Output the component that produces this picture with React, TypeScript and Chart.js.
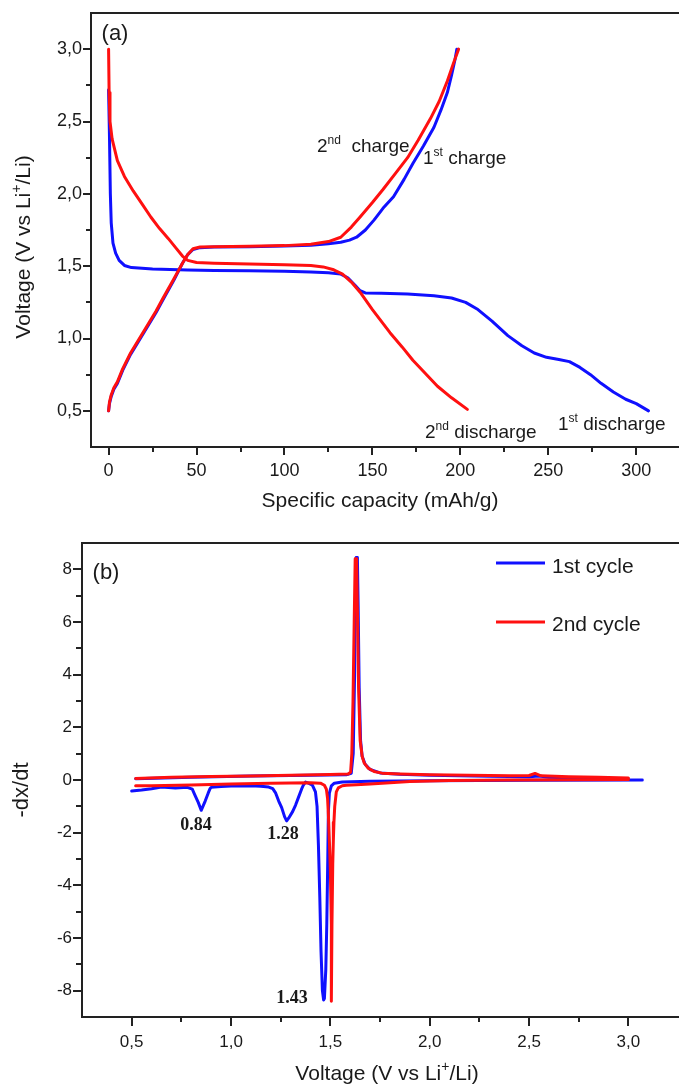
import React, { useEffect, useRef } from 'react';
import { Chart, registerables } from 'chart.js';

Chart.register(...registerables);

// ---------------- Panel (a): voltage vs specific capacity ----------------
const dis1Cap = [0, 0.5, 1, 1.5, 2.5, 4, 6, 9, 13, 25, 45, 60, 80, 100, 115, 125, 132, 136, 140, 143, 146, 155, 170, 185, 195, 203, 210, 218, 227, 235, 242, 249, 256, 262, 268, 274, 280, 287, 294, 300, 307];
const dis1V = [2.72, 2.4, 2.0, 1.8, 1.66, 1.59, 1.54, 1.505, 1.49, 1.48, 1.473, 1.47, 1.468, 1.465, 1.46, 1.455, 1.445, 1.42, 1.37, 1.33, 1.315, 1.312, 1.308, 1.295, 1.28, 1.25, 1.2, 1.12, 1.02, 0.95, 0.9, 0.87, 0.855, 0.84, 0.8, 0.75, 0.69, 0.63, 0.58, 0.55, 0.5];

const chg1Cap = [0, 0.5, 1.5, 3, 5, 8, 12.5, 17, 22, 27, 31, 37, 42, 45, 48, 52, 60, 80, 100, 115, 125, 132, 137, 141, 146, 151, 156, 162, 168, 173, 179, 185, 189, 192.6, 195, 197, 198];
const chg1V = [0.5, 0.55, 0.6, 0.65, 0.69, 0.78, 0.89, 0.98, 1.08, 1.18, 1.27, 1.4, 1.52, 1.58, 1.615, 1.628, 1.632, 1.635, 1.64, 1.645, 1.655, 1.665, 1.68, 1.7, 1.75, 1.82, 1.9, 1.98, 2.1, 2.21, 2.33, 2.46, 2.58, 2.7, 2.82, 2.93, 3.0];

const dis2Cap = [0, 0.3, 0.8, 2, 5, 9, 14, 19, 24, 29, 34, 38, 42, 45, 50, 60, 80, 100, 115, 122, 128, 133, 138, 143, 150, 160, 167, 173, 180, 187, 195, 204];
const dis2V = [3.0, 2.7, 2.5, 2.38, 2.23, 2.12, 2.02, 1.93, 1.84, 1.76, 1.69, 1.63, 1.57, 1.54, 1.525, 1.52, 1.515, 1.51, 1.505, 1.495, 1.475, 1.445, 1.39, 1.32, 1.2, 1.04, 0.94, 0.85, 0.76, 0.67, 0.59, 0.51];

const chg2Cap = [0, 0.5, 1.5, 3, 5, 8, 12.5, 17, 22, 27, 31, 37, 42, 45, 48, 52, 60, 80, 100, 115, 125, 132, 138, 143, 150, 156, 163, 170, 176, 183, 188, 192.6, 196, 199];
const chg2V = [0.5, 0.56, 0.61, 0.66, 0.7, 0.79, 0.9, 0.99, 1.09, 1.19, 1.28, 1.41, 1.52, 1.58, 1.62, 1.632, 1.635, 1.637, 1.642, 1.652, 1.67, 1.7, 1.77, 1.84, 1.94, 2.03, 2.14, 2.25, 2.37, 2.52, 2.64, 2.78, 2.9, 3.0];

const xMajorA = [0, 50, 100, 150, 200, 250, 300];
const xMinorA = [25, 75, 125, 175, 225, 275, 325];
const yMajorA = [0.5, 1.0, 1.5, 2.0, 2.5, 3.0];
const yMinorA = [0.75, 1.25, 1.75, 2.25, 2.75];

// ---------------- Panel (b): -dx/dt vs voltage ----------------
const b1DisV = [3.07, 2.5, 2.0, 1.7, 1.56, 1.52, 1.505, 1.495, 1.49, 1.487, 1.482, 1.477, 1.47, 1.466, 1.46, 1.453, 1.447, 1.44, 1.433, 1.425, 1.41, 1.39, 1.375, 1.365, 1.355, 1.34, 1.325, 1.31, 1.29, 1.28, 1.27, 1.255, 1.24, 1.225, 1.21, 1.19, 1.15, 1.1, 1.0, 0.95, 0.9, 0.895, 0.885, 0.87, 0.85, 0.835, 0.82, 0.805, 0.78, 0.72, 0.65, 0.6, 0.55, 0.5];
const b1DisY = [0.0, -0.01, -0.03, -0.05, -0.08, -0.12, -0.22, -0.5, -1.2, -3.0, -5.5, -7.2, -8.3, -8.35, -8.0, -6.5, -4.5, -2.5, -1.0, -0.45, -0.2, -0.12, -0.08, -0.18, -0.35, -0.65, -0.95, -1.2, -1.45, -1.55, -1.4, -1.05, -0.8, -0.5, -0.33, -0.27, -0.24, -0.22, -0.23, -0.25, -0.28, -0.32, -0.5, -0.8, -1.15, -0.85, -0.6, -0.35, -0.28, -0.3, -0.27, -0.33, -0.38, -0.42];

const b1ChgV = [0.52, 0.8, 1.1, 1.4, 1.58, 1.605, 1.615, 1.622, 1.627, 1.63, 1.636, 1.64, 1.645, 1.652, 1.66, 1.675, 1.7, 1.75, 1.85, 2.0, 2.3, 2.5, 2.55, 2.6, 2.8, 3.0];
const b1ChgY = [0.05, 0.1, 0.15, 0.18, 0.2, 0.25, 1.0, 4.0, 7.5, 8.45, 8.45, 6.5, 3.5, 1.5, 0.9, 0.6, 0.4, 0.27, 0.22, 0.18, 0.14, 0.12, 0.15, 0.1, 0.06, 0.03];

const b2DisV = [3.0, 2.7, 2.4, 2.1, 1.9, 1.8, 1.7, 1.63, 1.58, 1.56, 1.54, 1.53, 1.522, 1.518, 1.515, 1.512, 1.508, 1.506, 1.504, 1.5, 1.495, 1.49, 1.486, 1.48, 1.47, 1.45, 1.4, 1.2, 1.0, 0.8, 0.6, 0.52];
const b2DisY = [0.02, 0.01, 0.0, -0.02, -0.06, -0.1, -0.15, -0.18, -0.2, -0.22, -0.3, -0.45, -1.0, -1.6, -2.3, -3.2, -5.5, -8.4, -5.5, -3.4, -2.3, -1.3, -0.7, -0.35, -0.2, -0.12, -0.1, -0.12, -0.15, -0.19, -0.22, -0.22];

const b2ChgV = [0.52, 0.7, 0.9, 1.1, 1.3, 1.5, 1.59, 1.602, 1.608, 1.614, 1.62, 1.625, 1.632, 1.636, 1.642, 1.65, 1.66, 1.67, 1.69, 1.72, 1.76, 1.85, 2.0, 2.2, 2.4, 2.5, 2.53, 2.56, 2.7, 2.85, 3.0];
const b2ChgY = [0.06, 0.1, 0.13, 0.15, 0.18, 0.21, 0.23, 0.3, 1.0, 3.0, 6.0, 8.4, 8.4, 6.5, 3.5, 1.5, 0.9, 0.65, 0.45, 0.32, 0.26, 0.23, 0.2, 0.18, 0.16, 0.17, 0.25, 0.16, 0.12, 0.1, 0.08];

const xMajorB = [0.5, 1.0, 1.5, 2.0, 2.5, 3.0];
const xMinorB = [0.75, 1.25, 1.75, 2.25, 2.75];
const yMajorB = [-8, -6, -4, -2, 0, 2, 4, 6, 8];
const yMinorB = [-7, -5, -3, -1, 1, 3, 5, 7];

const BLUE = '#1010ff';
const RED = '#ff1010';
const INK = '#1a1a1a';
const SANS = '"Liberation Sans", Arial, sans-serif';
const SERIF = '"Liberation Serif", "Times New Roman", serif';

type Part = { t: string; sup?: boolean };

function pts(xs: number[], ys: number[]) {
  return xs.map((x, i) => ({ x, y: ys[i] }));
}

function drawRich(ctx: CanvasRenderingContext2D, parts: Part[], x: number, baseline: number, size: number, align: 'left' | 'center', weight = 'normal', family = SANS) {
  const supSize = Math.round(size * 0.65);
  const widths = parts.map((p) => {
    ctx.font = `${weight} ${p.sup ? supSize : size}px ${family}`;
    return ctx.measureText(p.t).width;
  });
  const total = widths.reduce((a, b) => a + b, 0);
  let cx = align === 'center' ? x - total / 2 : x;
  ctx.textAlign = 'left';
  ctx.textBaseline = 'alphabetic';
  ctx.fillStyle = INK;
  parts.forEach((p, i) => {
    ctx.font = `${weight} ${p.sup ? supSize : size}px ${family}`;
    ctx.fillText(p.t, cx, p.sup ? baseline - size * 0.42 : baseline);
    cx += widths[i];
  });
}

type FrameCfg = {
  xMajor: number[]; xMinor: number[]; yMajor: number[]; yMinor: number[];
  xMajLen: number; xMinLen: number; yMajLen: number; yMinLen: number;
};

function drawFrame(chart: any, cfg: FrameCfg) {
  const { ctx, chartArea } = chart;
  const { left, right, top, bottom } = chartArea;
  const xs = chart.scales.x;
  const ys = chart.scales.y;
  ctx.save();
  ctx.strokeStyle = '#222';
  ctx.lineWidth = 2;
  ctx.beginPath();
  const xTick = (v: number, len: number) => {
    const px = Math.round(xs.getPixelForValue(v));
    if (px < left - 1 || px > right + 1) return;
    ctx.moveTo(px, bottom);
    ctx.lineTo(px, bottom + len);
  };
  const yTick = (v: number, len: number) => {
    const py = Math.round(ys.getPixelForValue(v));
    ctx.moveTo(left, py);
    ctx.lineTo(left - len, py);
  };
  cfg.xMajor.forEach((v) => xTick(v, cfg.xMajLen));
  cfg.xMinor.forEach((v) => xTick(v, cfg.xMinLen));
  cfg.yMajor.forEach((v) => yTick(v, cfg.yMajLen));
  cfg.yMinor.forEach((v) => yTick(v, cfg.yMinLen));
  ctx.moveTo(left - 1, top);
  ctx.lineTo(right, top);
  ctx.lineTo(right, bottom);
  ctx.stroke();
  ctx.restore();
}

function lineDs(data: { x: number; y: number }[], color: string, width = 3) {
  return {
    data,
    showLine: true,
    borderColor: color,
    backgroundColor: color,
    borderWidth: width,
    pointRadius: 0,
    pointHoverRadius: 0,
    tension: 0,
    borderJoinStyle: 'round' as const,
    borderCapStyle: 'round' as const,
    fill: false,
  };
}

function commaFmt(v: number) {
  return v.toFixed(1).replace('.', ',');
}

function PanelA() {
  const ref = useRef<HTMLCanvasElement>(null);
  useEffect(() => {
    if (!ref.current) return;
    const plugin = {
      id: 'panelA',
      afterDraw(chart: any) {
        const ctx = chart.ctx as CanvasRenderingContext2D;
        drawFrame(chart, {
          xMajor: xMajorA, xMinor: xMinorA, yMajor: yMajorA, yMinor: yMinorA,
          xMajLen: 8, xMinLen: 5, yMajLen: 8, yMinLen: 5,
        });
        ctx.save();
        // panel label
        ctx.fillStyle = INK;
        ctx.font = `22px ${SANS}`;
        ctx.textAlign = 'center';
        ctx.textBaseline = 'middle';
        ctx.fillText('(a)', 115, 34);
        // axis titles
        drawRich(ctx, [{ t: 'Specific capacity (mAh/g)' }], 380, 507, 21, 'center');
        ctx.save();
        ctx.translate(30, 247);
        ctx.rotate(-Math.PI / 2);
        drawRich(ctx, [{ t: 'Voltage (V vs Li' }, { t: '+', sup: true }, { t: '/Li)' }], 0, 0, 21, 'center');
        ctx.restore();
        // curve annotations
        drawRich(ctx, [{ t: '2' }, { t: 'nd', sup: true }, { t: '  charge' }], 317, 152, 19, 'left');
        drawRich(ctx, [{ t: '1' }, { t: 'st', sup: true }, { t: ' charge' }], 423, 164, 19, 'left');
        drawRich(ctx, [{ t: '2' }, { t: 'nd', sup: true }, { t: ' discharge' }], 425, 438, 19, 'left');
        drawRich(ctx, [{ t: '1' }, { t: 'st', sup: true }, { t: ' discharge' }], 558, 430, 19, 'left');
        ctx.restore();
      },
    };
    const chart = new Chart(ref.current, {
      type: 'scatter',
      data: {
        datasets: [
          lineDs(pts(chg2Cap, chg2V), RED),
          lineDs(pts(dis2Cap, dis2V), RED),
          lineDs(pts(chg1Cap, chg1V), BLUE),
          lineDs(pts(dis1Cap, dis1V), BLUE),
        ] as any,
      },
      options: {
        animation: false,
        responsive: false,
        maintainAspectRatio: false,
        events: [],
        layout: { padding: { top: 13, right: 11, left: 0, bottom: 0 } },
        plugins: { legend: { display: false }, tooltip: { enabled: false } },
        scales: {
          x: {
            type: 'linear',
            min: -10,
            max: 330,
            afterBuildTicks: (s: any) => { s.ticks = xMajorA.map((v) => ({ value: v })); },
            afterFit: (s: any) => { s.height = 73; },
            ticks: {
              callback: (v: any) => String(v),
              font: { size: 18, family: SANS },
              color: INK,
              padding: 5,
              maxRotation: 0,
              autoSkip: false,
            },
            grid: { drawOnChartArea: false, drawTicks: true, tickLength: 8, color: 'rgba(0,0,0,0)' },
            border: { display: true, color: '#222', width: 2 },
          },
          y: {
            type: 'linear',
            min: 0.25,
            max: 3.25,
            afterBuildTicks: (s: any) => { s.ticks = yMajorA.map((v) => ({ value: v })); },
            afterFit: (s: any) => { s.width = 91; },
            ticks: {
              callback: (v: any) => commaFmt(Number(v)),
              font: { size: 18, family: SANS },
              color: INK,
              padding: 1,
              autoSkip: false,
            },
            grid: { drawOnChartArea: false, drawTicks: true, tickLength: 8, color: 'rgba(0,0,0,0)' },
            border: { display: true, color: '#222', width: 2 },
          },
        },
      } as any,
      plugins: [plugin],
    });
    return () => chart.destroy();
  }, []);
  return <canvas ref={ref} width={700} height={520} style={{ width: 700, height: 520, display: 'block' }} />;
}

function PanelB() {
  const ref = useRef<HTMLCanvasElement>(null);
  useEffect(() => {
    if (!ref.current) return;
    const plugin = {
      id: 'panelB',
      afterDraw(chart: any) {
        const ctx = chart.ctx as CanvasRenderingContext2D;
        drawFrame(chart, {
          xMajor: xMajorB, xMinor: xMinorB, yMajor: yMajorB, yMinor: yMinorB,
          xMajLen: 9, xMinLen: 5, yMajLen: 9, yMinLen: 6,
        });
        ctx.save();
        ctx.fillStyle = INK;
        ctx.font = `22px ${SANS}`;
        ctx.textAlign = 'center';
        ctx.textBaseline = 'middle';
        ctx.fillText('(b)', 106, 53);
        // legend
        ctx.lineWidth = 3;
        ctx.strokeStyle = BLUE;
        ctx.beginPath(); ctx.moveTo(496, 43); ctx.lineTo(545, 43); ctx.stroke();
        ctx.strokeStyle = RED;
        ctx.beginPath(); ctx.moveTo(496, 102); ctx.lineTo(545, 102); ctx.stroke();
        drawRich(ctx, [{ t: '1st cycle' }], 552, 53, 21, 'left');
        drawRich(ctx, [{ t: '2nd cycle' }], 552, 111, 21, 'left');
        // peak labels
        drawRich(ctx, [{ t: '0.84' }], 196, 310, 18, 'center', 'bold', SERIF);
        drawRich(ctx, [{ t: '1.28' }], 283, 319, 18, 'center', 'bold', SERIF);
        drawRich(ctx, [{ t: '1.43' }], 292, 483, 18, 'center', 'bold', SERIF);
        // axis titles
        drawRich(ctx, [{ t: 'Voltage (V vs Li' }, { t: '+', sup: true }, { t: '/Li)' }], 387, 560, 21, 'center');
        ctx.save();
        ctx.translate(28, 270);
        ctx.rotate(-Math.PI / 2);
        drawRich(ctx, [{ t: '-dx/dt' }], 0, 0, 22, 'center');
        ctx.restore();
        ctx.restore();
      },
    };
    const chart = new Chart(ref.current, {
      type: 'scatter',
      data: {
        datasets: [
          lineDs(pts(b2ChgV, b2ChgY), RED),
          lineDs(pts(b2DisV, b2DisY), RED),
          lineDs(pts(b1ChgV, b1ChgY), BLUE),
          lineDs(pts(b1DisV, b1DisY), BLUE),
        ] as any,
      },
      options: {
        animation: false,
        responsive: false,
        maintainAspectRatio: false,
        events: [],
        layout: { padding: { top: 23, right: 12, left: 0, bottom: 0 } },
        plugins: { legend: { display: false }, tooltip: { enabled: false } },
        scales: {
          x: {
            type: 'linear',
            min: 0.25,
            max: 3.3,
            afterBuildTicks: (s: any) => { s.ticks = xMajorB.map((v) => ({ value: v })); },
            afterFit: (s: any) => { s.height = 69; },
            ticks: {
              callback: (v: any) => commaFmt(Number(v)),
              font: { size: 17, family: SANS },
              color: INK,
              padding: 6,
              maxRotation: 0,
              autoSkip: false,
            },
            grid: { drawOnChartArea: false, drawTicks: true, tickLength: 9, color: 'rgba(0,0,0,0)' },
            border: { display: true, color: '#222', width: 2 },
          },
          y: {
            type: 'linear',
            min: -9,
            max: 9,
            afterBuildTicks: (s: any) => { s.ticks = yMajorB.map((v) => ({ value: v })); },
            afterFit: (s: any) => { s.width = 82; },
            ticks: {
              callback: (v: any) => String(v),
              font: { size: 17, family: SANS },
              color: INK,
              padding: 1,
              autoSkip: false,
            },
            grid: { drawOnChartArea: false, drawTicks: true, tickLength: 9, color: 'rgba(0,0,0,0)' },
            border: { display: true, color: '#222', width: 2 },
          },
        },
      } as any,
      plugins: [plugin],
    });
    return () => chart.destroy();
  }, []);
  return <canvas ref={ref} width={700} height={566} style={{ width: 700, height: 566, display: 'block' }} />;
}

export default function App() {
  return (
    <div style={{ position: 'absolute', left: 0, top: 0, width: 679, height: 1086, overflow: 'hidden', background: '#ffffff' }}>
      <div style={{ position: 'absolute', left: 0, top: 0, width: 700, height: 520 }}>
        <PanelA />
      </div>
      <div style={{ position: 'absolute', left: 0, top: 520, width: 700, height: 566 }}>
        <PanelB />
      </div>
    </div>
  );
}
